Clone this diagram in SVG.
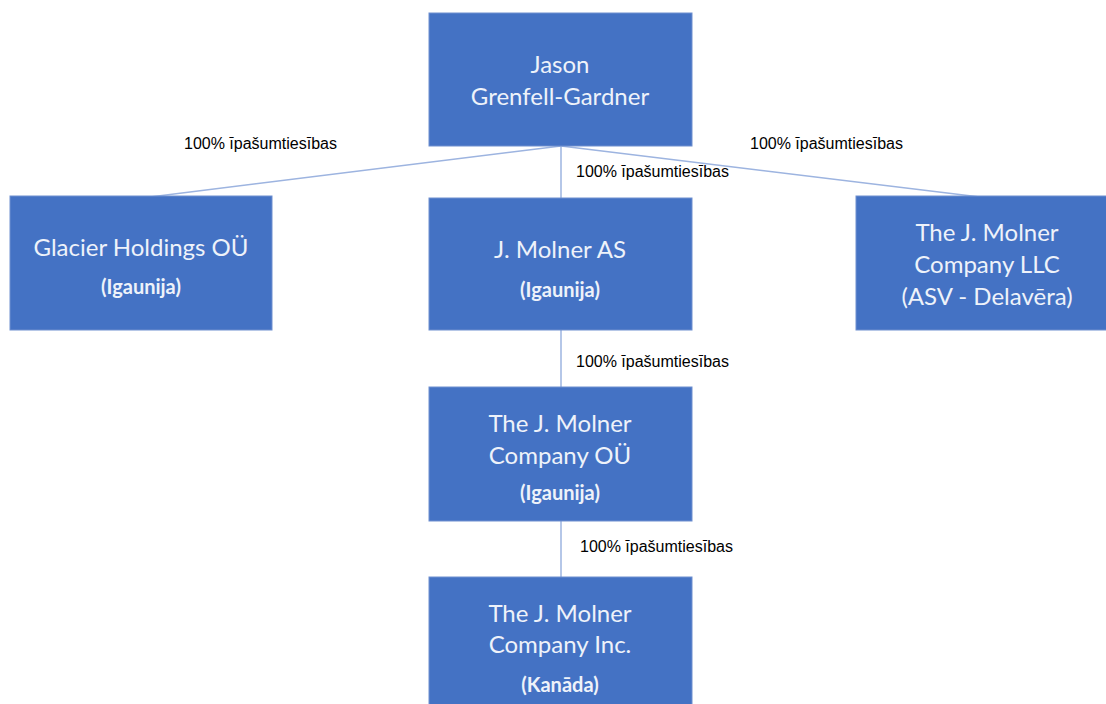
<svg xmlns="http://www.w3.org/2000/svg" width="1106" height="704" viewBox="0 0 1106 704">
<style>
.box{fill:#4472C4;stroke:#6E8FCF;stroke-width:1}
.t{font-family:Lato,"Open Sans","Liberation Sans",sans-serif;font-size:24px;fill:#EEF2FA;text-anchor:middle;dominant-baseline:central}
.s{font-family:Lato,"Open Sans","Liberation Sans",sans-serif;font-size:20px;font-weight:bold;fill:#EEF2FA;text-anchor:middle;dominant-baseline:central}
.l{font-family:"Liberation Sans",Arial,sans-serif;font-size:16px;fill:#000;dominant-baseline:central}
.c{stroke:#9DB4E0;stroke-width:1.5;fill:none}
</style>
<rect width="1106" height="704" fill="#fff"/>
<g id="connectors">
<line class="c" x1="561" y1="146" x2="150" y2="197"/>
<line class="c" x1="561" y1="146" x2="980" y2="197"/>
<line class="c" x1="561" y1="146" x2="561" y2="198"/>
<line class="c" x1="561" y1="330" x2="561" y2="387"/>
<line class="c" x1="561" y1="521" x2="561" y2="577"/>
<text class="l" x="184" y="143">100% īpašumtiesības</text>
<text class="l" x="750" y="143">100% īpašumtiesības</text>
<text class="l" x="576" y="171">100% īpašumtiesības</text>
<text class="l" x="576" y="361">100% īpašumtiesības</text>
<text class="l" x="580" y="546">100% īpašumtiesības</text>
</g>
<g id="n-jason">
<rect class="box" x="429" y="13" width="263" height="133"/>
<text class="t" x="560" y="63">Jason</text>
<text class="t" x="560" y="95">Grenfell-Gardner</text>
</g>
<g id="n-glacier">
<rect class="box" x="10" y="196" width="262" height="134"/>
<text class="t" x="141" y="246">Glacier Holdings OÜ</text>
<text class="s" x="141" y="286">(Igaunija)</text>
</g>
<g id="n-molner-as">
<rect class="box" x="429" y="198" width="263" height="132"/>
<text class="t" x="560" y="248">J. Molner AS</text>
<text class="s" x="560" y="289">(Igaunija)</text>
</g>
<g id="n-llc">
<rect class="box" x="856" y="196" width="262" height="134"/>
<text class="t" x="987" y="231">The J. Molner</text>
<text class="t" x="987" y="263">Company LLC</text>
<text class="t" x="987" y="295">(ASV - Delavēra)</text>
</g>
<g id="n-ou">
<rect class="box" x="429" y="387" width="263" height="134"/>
<text class="t" x="560" y="422">The J. Molner</text>
<text class="t" x="560" y="454">Company OÜ</text>
<text class="s" x="560" y="492">(Igaunija)</text>
</g>
<g id="n-inc">
<rect class="box" x="429" y="577" width="263" height="140"/>
<text class="t" x="560" y="612">The J. Molner</text>
<text class="t" x="560" y="643">Company Inc.</text>
<text class="s" x="560" y="684">(Kanāda)</text>
</g>
</svg>
